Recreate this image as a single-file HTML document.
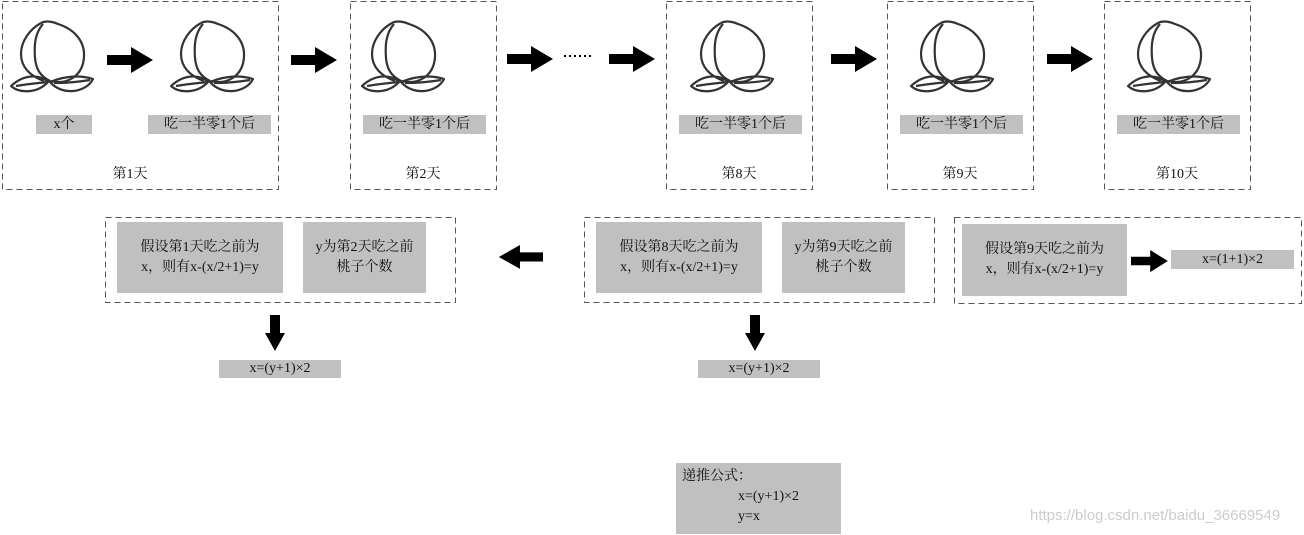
<!DOCTYPE html>
<html><head><meta charset="utf-8"><style>
body{margin:0;width:1304px;height:535px;background:#fff;position:relative;overflow:hidden;font-family:"Liberation Serif","Noto Serif CJK SC",serif;font-size:14px;color:#111}
.a{position:absolute}
.g{position:absolute;background:#c0c0c0;text-align:center;box-sizing:border-box}
.l{position:absolute;text-align:center;font-size:14px}
.g2{display:flex;align-items:center;justify-content:center;flex-direction:column;line-height:20px}
</style></head><body>
<svg class="a" style="left:0;top:0" width="1304" height="535">
<defs>
<g id="p" fill="none" stroke="#333" stroke-width="2.2" stroke-linejoin="round">
<path d="M31,2 C36,-1 44,1 48,3 C64,8 75,20 74,36 C73,52 62,61 48,61 L38,60"/>
<path d="M31,2 C20,8 11,20 11,33 C11,46 20,55 34,60"/>
<path d="M33,3 C25,12 24,24 25,37 C26,48 30,55 40,60"/>
<path d="M38,61 C30,53 14,53 1,65 C10,73 28,72 38,61 Z"/>
<path d="M6,65 C18,63 28,62 38,61"/>
<path d="M40,61 C55,55 70,54 83,58 C76,72 52,75 40,61 Z"/>
<path d="M44,62 C56,62 68,61 80,59"/>
</g>
<path id="ar" d="M0,8 H24 V0 L46,13 L24,26 V18 H0 Z" fill="#000"/>
<path id="dn" d="M5,0 H15 V18 H20 L10,36 L0,18 H5 Z" fill="#000"/>
</defs>
<g fill="none" stroke="#555" stroke-width="1" stroke-dasharray="6,4">
<rect x="2.5" y="1.5" width="276" height="188"/>
<rect x="350.5" y="1.5" width="146" height="188"/>
<rect x="666.5" y="1.5" width="146" height="188"/>
<rect x="887.5" y="1.5" width="146" height="188"/>
<rect x="1104.5" y="1.5" width="146" height="188"/>
<rect x="105.5" y="217.5" width="350" height="85"/>
<rect x="584.5" y="217.5" width="350" height="85"/>
<rect x="954.5" y="217.5" width="347" height="86"/>
</g>
<use href="#p" transform="translate(10,21)"/>
<use href="#p" transform="translate(170,21)"/>
<use href="#p" transform="translate(361,21)"/>
<use href="#p" transform="translate(690,21)"/>
<use href="#p" transform="translate(910,21)"/>
<use href="#p" transform="translate(1127,21)"/>
<use href="#ar" transform="translate(107,47)"/>
<use href="#ar" transform="translate(291,47)"/>
<use href="#ar" transform="translate(507,46)"/>
<use href="#ar" transform="translate(609,46)"/>
<use href="#ar" transform="translate(831,46)"/>
<use href="#ar" transform="translate(1047,46)"/>
<use href="#ar" transform="translate(543,245) scale(-0.96,0.92)"/>
<use href="#ar" transform="translate(1131,250) scale(0.8,0.85)"/>
<use href="#dn" transform="translate(265,315)"/>
<use href="#dn" transform="translate(745,315)"/>
<line x1="564" y1="56" x2="594" y2="56" stroke="#000" stroke-width="2" stroke-dasharray="2,3"/>
</svg>

<div class="g" style="left:36px;top:115px;width:56px;height:19px;line-height:19px">x个</div>
<div class="g" style="left:148px;top:115px;width:123px;height:19px;line-height:19px">吃一半零1个后</div>
<div class="g" style="left:363px;top:115px;width:123px;height:19px;line-height:19px">吃一半零1个后</div>
<div class="g" style="left:679px;top:115px;width:123px;height:19px;line-height:19px">吃一半零1个后</div>
<div class="g" style="left:900px;top:115px;width:123px;height:19px;line-height:19px">吃一半零1个后</div>
<div class="g" style="left:1117px;top:115px;width:123px;height:19px;line-height:19px">吃一半零1个后</div>

<div class="l" style="left:90px;top:163px;width:80px">第1天</div>
<div class="l" style="left:383px;top:163px;width:80px">第2天</div>
<div class="l" style="left:699px;top:163px;width:80px">第8天</div>
<div class="l" style="left:920px;top:163px;width:80px">第9天</div>
<div class="l" style="left:1137px;top:163px;width:80px">第10天</div>

<div class="g g2" style="left:117px;top:222px;width:166px;height:71px">假设第1天吃之前为<br>x，则有x-(x/2+1)=y</div>
<div class="g g2" style="left:303px;top:222px;width:123px;height:71px">y为第2天吃之前<br>桃子个数</div>

<div class="g g2" style="left:596px;top:222px;width:166px;height:71px">假设第8天吃之前为<br>x，则有x-(x/2+1)=y</div>
<div class="g g2" style="left:782px;top:222px;width:123px;height:71px">y为第9天吃之前<br>桃子个数</div>

<div class="g g2" style="left:962px;top:224px;width:165px;height:72px">假设第9天吃之前为<br>x，则有x-(x/2+1)=y</div>
<div class="g" style="left:1171px;top:250px;width:123px;height:19px;line-height:19px">x=(1+1)×2</div>

<div class="g" style="left:219px;top:360px;width:122px;height:18px;line-height:18px">x=(y+1)×2</div>
<div class="g" style="left:698px;top:360px;width:122px;height:18px;line-height:18px">x=(y+1)×2</div>

<div class="g" style="left:676px;top:463px;width:165px;height:71px;text-align:left;line-height:20px;padding:4px 0 0 6px">递推公式：<br><span style="padding-left:56px">x=(y+1)×2</span><br><span style="padding-left:56px">y=x</span></div>

<div class="a" style="left:1030px;top:507px;font-size:15px;color:#ccc;font-family:'Liberation Sans',sans-serif">https://blog.csdn.net/baidu_36669549</div>
</body></html>
